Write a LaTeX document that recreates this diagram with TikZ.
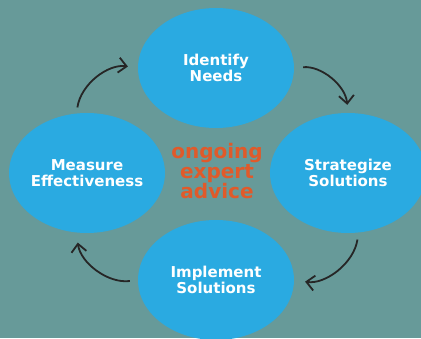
\documentclass[tikz,border=0pt]{standalone}
\usepackage{fontspec}
\setmainfont{DejaVu Sans}
\usetikzlibrary{arrows.meta,shapes.geometric}
\definecolor{bgteal}{HTML}{679A99}
\definecolor{stepblue}{HTML}{2AAAE1}
\definecolor{advorange}{HTML}{E05A2A}
\tikzset{
  stage/.style={ellipse, fill=stepblue, minimum width=156pt, minimum height=120pt,
    inner xsep=-12pt, inner ysep=0pt, align=center, text=white, font=\fontsize{15}{16.5}\selectfont\bfseries},
  cyc/.style={line width=1.8pt, black!85, -{Straight Barb[length=8pt,width=15pt]}, bend left=45}
}
\begin{document}
\begin{tikzpicture}[x=1pt,y=1pt]
     \fill[bgteal] (0,0) rectangle (421,338);
     \useasboundingbox (0,0) rectangle (421,338);
     \node[stage] (identify)   at (216,270) {Identify\\ Needs};
     \node[stage] (strategize) at (348,165) {Strategize\\Solutions};
     \node[stage] (implement)  at (216,58)  {Implement\\Solutions};
     \node[stage] (measure)    at (87,165)  {Measure\\Effectiveness};
     \node[align=center, text=advorange, font=\fontsize{20}{20}\selectfont\bfseries]
          (advice) at (217,167) {ongoing\\expert\\advice};
     \draw[cyc, shorten <=6pt, shorten >=10pt] (measure.100) to (identify.west);
     \draw[cyc, shorten <=9pt, shorten >=8pt] (identify.east) to (strategize.north);
     \draw[cyc, shorten <=7pt, shorten >=11pt] (strategize.-80) to (implement.east);
     \draw[cyc, shorten <=8pt, shorten >=10pt] (implement.west) to (measure.-100);
\end{tikzpicture}
\end{document}
